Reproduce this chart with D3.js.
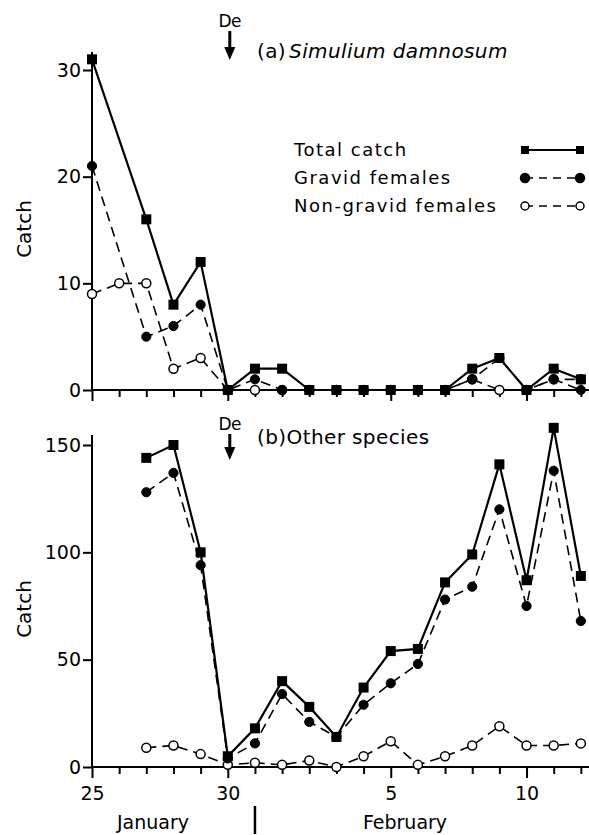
<!DOCTYPE html>
<html>
<head>
<meta charset="utf-8">
<script src="https://cdn.jsdelivr.net/npm/d3@7"></script>
<style>
   body { margin: 0; background: #fff; }
   svg { display: block; font-family: "DejaVu Sans", sans-serif; }
</style>
</head>
<body>
<svg id="chart" width="589" height="835"></svg>
<script>
/*global d3*/
// days counted from 1 January (32 = 1 February)
var days = [25, 26, 27, 28, 29, 30, 31, 32, 33, 34, 35, 36, 37, 38, 39, 40, 41, 42, 43];

// (a) Simulium damnosum
var totalA = [31, null, 16, 8, 12, 0, 2, 2, 0, 0, 0, 0, 0, 0, 2, 3, 0, 2, 1];
var gravidA = [21, null, 5, 6, 8, 0, 1, 0, 0, 0, 0, 0, 0, 0, 1, 3, 0, 1, 0];
var nonGravidA = [9, 10, 10, 2, 3, 0, 0, 0, 0, 0, 0, 0, 0, 0, 1, 0, 0, 1, 1];

// (b) Other species
var totalB = [null, null, 144, 150, 100, 5, 18, 40, 28, 14, 37, 54, 55, 86, 99, 141, 87, 158, 89];
var gravidB = [null, null, 128, 137, 94, 4, 11, 34, 21, 14, 29, 39, 48, 78, 84, 120, 75, 138, 68];
var nonGravidB = [null, null, 9, 10, 6, 1, 2, 1, 3, 0, 5, 12, 1, 5, 10, 19, 10, 10, 11];

var xTickLabels = {25: "25", 30: "30", 36: "5", 41: "10"};
var yTicksA = [0, 10, 20, 30];
var yTicksB = [0, 50, 100, 150];
var legendLabels = ["Total catch", "Gravid females", "Non-gravid females"];
var deDay = 30;

(function () {
   "use strict";

   var svg = d3.select("#chart"),
      x = d3.scaleLinear().domain([25, 43.3]).range([92, 589]),
      yA = d3.scaleLinear().domain([0, 30]).range([390, 70]),
      yB = d3.scaleLinear().domain([0, 150]).range([767, 445]);

   function pairs(vals) {
      return days.map(function (d, i) {
         return {day: d, v: vals[i]};
      }).filter(function (p) {
         return p.v !== null;
      });
   }

   function drawAxes(y, ticks, top, showLabels) {
      var g = svg.append("g"),
         xAxis = d3.axisBottom(x).tickValues(days).tickSize(7).tickPadding(13)
            .tickFormat(function (d) {
               return showLabels ? (xTickLabels[d] || "") : "";
            }),
         yAxis = d3.axisLeft(y).tickValues(ticks).tickSize(9).tickPadding(2),
         gx, gy;

      gx = g.append("g").attr("transform", "translate(0," + y(0) + ")").call(xAxis);
      gx.select(".domain").remove();
      gx.append("line").attr("x1", x(25)).attr("x2", 589)
         .attr("stroke", "#000").attr("stroke-width", 2);
      gx.selectAll(".tick line").attr("stroke-width", 2)
         .attr("y2", function (d) { return xTickLabels[d] ? 11 : 7; });
      gx.selectAll(".tick text").attr("font-size", 19).attr("fill", "#000")
         .attr("font-family", "DejaVu Sans");

      gy = g.append("g").attr("transform", "translate(" + x(25) + ",0)").call(yAxis);
      gy.select(".domain").remove();
      gy.append("line").attr("y1", y(0)).attr("y2", top)
         .attr("stroke", "#000").attr("stroke-width", 2);
      gy.selectAll(".tick line").attr("stroke-width", 2);
      gy.selectAll(".tick text").attr("font-size", 19).attr("fill", "#000")
         .attr("font-family", "DejaVu Sans");

      g.append("text").attr("transform", "translate(31," + ((y(0) + top) / 2 + 8) + ") rotate(-90)")
         .attr("text-anchor", "middle").attr("font-size", 20).text("Catch");
   }

   function drawSeries(y, vals, kind) {
      var data = pairs(vals),
         line = d3.line().x(function (d) { return x(d.day); }).y(function (d) { return y(d.v); }),
         g = svg.append("g");

      g.append("path").datum(data).attr("d", line).attr("fill", "none")
         .attr("stroke", "#000")
         .attr("stroke-width", kind === "total" ? 2.2 : 1.6)
         .attr("stroke-dasharray", kind === "total" ? null : "10,6");

      if (kind === "total") {
         g.selectAll("rect").data(data).enter().append("rect")
            .attr("x", function (d) { return x(d.day) - 5; })
            .attr("y", function (d) { return y(d.v) - 5; })
            .attr("width", 10).attr("height", 10).attr("fill", "#000");
      } else {
         g.selectAll("circle").data(data).enter().append("circle")
            .attr("cx", function (d) { return x(d.day); })
            .attr("cy", function (d) { return y(d.v); })
            .attr("r", kind === "gravid" ? 4.6 : 4.5)
            .attr("fill", kind === "gravid" ? "#000" : "#fff")
            .attr("stroke", "#000").attr("stroke-width", kind === "gravid" ? 1 : 1.5);
      }
   }

   function drawDe(textY, arrowTop, arrowTip) {
      var cx = x(deDay) + 2;
      svg.append("text").attr("x", cx).attr("y", textY).attr("text-anchor", "middle")
         .attr("font-size", 17).attr("letter-spacing", -0.5).text("De");
      svg.append("line").attr("x1", cx).attr("x2", cx).attr("y1", arrowTop).attr("y2", arrowTip - 10)
         .attr("stroke", "#000").attr("stroke-width", 3);
      svg.append("path")
         .attr("d", "M" + (cx - 5.5) + "," + (arrowTip - 13) + "L" + (cx + 5.5) + "," + (arrowTip - 13) +
            "L" + cx + "," + arrowTip + "Z")
         .attr("fill", "#000");
   }

   // panel (a)
   drawAxes(yA, yTicksA, 52, false);
   drawSeries(yA, nonGravidA, "non");
   drawSeries(yA, gravidA, "gravid");
   drawSeries(yA, totalA, "total");
   drawDe(27, 31, 60);

   var tA = svg.append("text").attr("x", 257).attr("y", 58).attr("font-size", 20)
      .attr("letter-spacing", 0.4);
   tA.append("tspan").text("(a)");
   tA.append("tspan").attr("font-style", "italic").attr("dx", 3).text("Simulium damnosum");

   // legend
   var leg = svg.append("g").selectAll("g").data(legendLabels).enter().append("g")
      .attr("transform", function (d, i) { return "translate(0," + (156 + i * 28) + ")"; });
   leg.append("text").attr("x", 294).attr("y", 0).attr("font-size", 18)
      .attr("letter-spacing", 1.5).text(function (d) { return d; });
   leg.append("line").attr("x1", 525).attr("x2", 580).attr("y1", -6).attr("y2", -6)
      .attr("stroke", "#000")
      .attr("stroke-width", function (d, i) { return i === 0 ? 2.2 : 1.6; })
      .attr("stroke-dasharray", function (d, i) { return i === 0 ? null : "8,6"; });
   leg.each(function (d, i) {
      var g = d3.select(this);
      [525, 580].forEach(function (px) {
         if (i === 0) {
            g.append("rect").attr("x", px - 4).attr("y", -10).attr("width", 8).attr("height", 8)
               .attr("fill", "#000");
         } else {
            g.append("circle").attr("cx", px).attr("cy", -6).attr("r", i === 1 ? 4.5 : 4)
               .attr("fill", i === 1 ? "#000" : "#fff").attr("stroke", "#000").attr("stroke-width", 1.5);
         }
      });
   });

   // panel (b)
   drawAxes(yB, yTicksB, 435, true);
   drawSeries(yB, nonGravidB, "non");
   drawSeries(yB, gravidB, "gravid");
   drawSeries(yB, totalB, "total");
   drawDe(430, 434, 460);

   svg.append("text").attr("x", 257).attr("y", 444).attr("font-size", 20)
      .attr("letter-spacing", 0.4).text("(b)Other species");

   // month labels
   svg.append("text").attr("x", 153).attr("y", 829).attr("text-anchor", "middle")
      .attr("font-size", 19).text("January");
   svg.append("text").attr("x", 405).attr("y", 829).attr("text-anchor", "middle")
      .attr("font-size", 19).text("February");
   svg.append("line").attr("x1", x(31)).attr("x2", x(31)).attr("y1", 806).attr("y2", 834)
      .attr("stroke", "#000").attr("stroke-width", 2.5);
}());
</script>
</body>
</html>
